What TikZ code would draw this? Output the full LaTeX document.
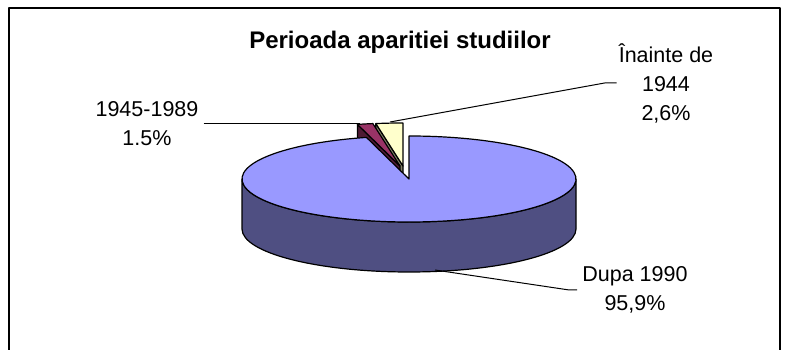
\documentclass[tikz,border=0pt]{standalone}
\usepackage{fontspec}
\setmainfont{Liberation Sans}
\definecolor{pieblue}{HTML}{9999FF}
\definecolor{pieblueside}{HTML}{4F4F82}
\definecolor{piepurple}{HTML}{993366}
\definecolor{piepurpleside}{HTML}{4D1A33}
\definecolor{pieyellow}{HTML}{FFFFCC}
\definecolor{pieyellowside}{HTML}{808066}

\begin{document}
\begin{tikzpicture}[x=1pt,y=1pt,line join=round,
  slice/.style={draw=black,line width=1.2pt},
  lbl/.style={align=center,inner sep=0pt,font=\fontsize{21.5}{29}\selectfont},
  leader/.style={draw=black,line width=1pt}]
\useasboundingbox (0,0) rectangle (785,350);
\draw[line width=2pt] (8.5,-2) -- (8.5,341.5) -- (780,341.5) -- (780,-2);

\node[font=\bfseries\fontsize{24}{28}\selectfont,inner sep=0pt] (title) at (400,308) {Perioada aparitiei studiilor};

\coordinate (c) at (409,171);
\begin{scope}[shift={(403,184)}]
\filldraw[slice,fill=pieyellowside] (0,0) -- (99.36:167 and 43) -- ++(0,-50) -- (0,-50) -- cycle;
\filldraw[slice,fill=pieyellow] (0,0) -- (99.36:167 and 43) arc[start angle=99.36,end angle=90,x radius=167,y radius=43] -- cycle;
\end{scope}
\begin{scope}[shift={(400,184)}]
\filldraw[slice,fill=piepurpleside] (0,0) -- (104.76:167 and 43) -- ++(0,-50) -- (0,-50) -- cycle;
\filldraw[slice,fill=piepurple] (0,0) -- (104.76:167 and 43) arc[start angle=104.76,end angle=99.36,x radius=167,y radius=43] -- cycle;
\end{scope}
\begin{scope}[shift={(c)}]
\filldraw[slice,fill=pieblueside] (180:167 and 43) arc[start angle=180,end angle=360,x radius=167,y radius=43] -- ++(0,-50) arc[start angle=360,end angle=180,x radius=167,y radius=43] -- cycle;
\filldraw[slice,fill=pieblue] (0,0) -- (104.76:167 and 43) arc[start angle=104.76,end angle=450,x radius=167,y radius=43] -- cycle;
\end{scope}

\coordinate (p45) at (360,226);
\coordinate (p44) at (390,228);
\coordinate (p90) at (435,80);

\node[lbl] (l45) at (147,226) {1945-1989\\1.5\%};
\node[lbl] (l44) at (666,267) {Înainte de\\1944\\2,6\%};
\node[lbl] (l90) at (635,60) {Dupa 1990\\95,9\%};

\draw[leader] (l45.east) ++(5,0) -- (p45);
\draw[leader] (p44) -- ([xshift=-14pt]l44.west) -- ([xshift=-2pt]l44.west);
\draw[leader] (p90) -- ([xshift=-13pt]l90.west) -- ([xshift=-5pt]l90.west);
\end{tikzpicture}
\end{document}
